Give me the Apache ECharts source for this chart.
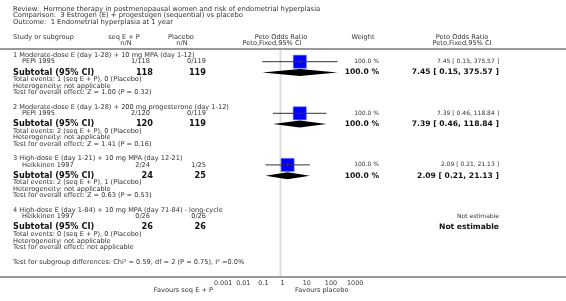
<!DOCTYPE html>
<html><head><meta charset="utf-8">
<script src="https://cdn.jsdelivr.net/npm/echarts@6/dist/echarts.min.js"></script>
<style>html,body{margin:0;padding:0;background:#fff}#c{width:566px;height:301px}</style>
</head><body><div id="c"></div>
<script>
// ---------- data ----------
const titleLines = [
  'Review:  Hormone therapy in postmenopausal women and risk of endometrial hyperplasia',
  'Comparison:  3 Estrogen (E) + progestogen (sequential) vs placebo',
  'Outcome:  1 Endometrial hyperplasia at 1 year'
];
const colHeaders = ['Study or subgroup', 'seq E + P', 'Placebo', 'Peto Odds Ratio', 'Weight', 'Peto Odds Ratio'];
const colSubHeaders = ['', 'n/N', 'n/N', 'Peto,Fixed,95% CI', '', 'Peto,Fixed,95% CI'];
const subgroupNames = [
  '1 Moderate-dose E (day 1-28) + 10 mg MPA (day 1-12)',
  '2 Moderate-dose E (day 1-28) + 200 mg progesterone (day 1-12)',
  '3 High-dose E (day 1-21) + 10 mg MPA (day 12-21)',
  '4 High-dose E (day 1-84) + 10 mg MPA (day 71-84) - long-cycle'
];
const studyNames = ['PEPI 1995', 'PEPI 1995', 'Heikkinen 1997', 'Heikkinen 1997'];
const eventsE = ['1/118', '2/120', '2/24', '0/26'];
const eventsP = ['0/119', '0/119', '1/25', '0/26'];
const totalE = [118, 120, 24, 26];
const totalP = [119, 119, 25, 26];
const weights = ['100.0 %', '100.0 %', '100.0 %', ''];
const orEst = [7.45, 7.39, 2.09, null];
const orLow = [0.15, 0.46, 0.21, null];
const orHigh = [375.57, 118.84, 21.13, null];
const totalEventsText = [
  'Total events: 1 (seq E + P), 0 (Placebo)',
  'Total events: 2 (seq E + P), 0 (Placebo)',
  'Total events: 2 (seq E + P), 1 (Placebo)',
  'Total events: 0 (seq E + P), 0 (Placebo)'
];
const heterogeneityText = [
  'Heterogeneity: not applicable', 'Heterogeneity: not applicable',
  'Heterogeneity: not applicable', 'Heterogeneity: not applicable'
];
const overallEffectText = [
  'Test for overall effect: Z = 1.00 (P = 0.32)',
  'Test for overall effect: Z = 1.41 (P = 0.16)',
  'Test for overall effect: Z = 0.63 (P = 0.53)',
  'Test for overall effect: not applicable'
];
const subgroupTestText = 'Test for subgroup differences: Chi\u00b2 = 0.59, df = 2 (P = 0.75), I\u00b2 =0.0%';
const axisTicks = [0.001, 0.01, 0.1, 1, 10, 100, 1000];
const favoursLeft = 'Favours seq E + P';
const favoursRight = 'Favours placebo';

// ---------- layout ----------
const W = 566, H = 301;
const FONT = 'DejaVu Sans';
const G0 = 55.5, GSTEP = 51.6;
const OFF = {name: 0, study: 6.2, sub: 17, tot: 24, het: 30.5, test: 37};
const rowY = (g, k) => G0 + g * GSTEP + OFF[k];
const AXIS_Y = 277;
const X = {left: 13, study: 22, colE: 150, colP: 206, hdrE: 124, hdrP: 181, hdrPlot: 281, weight: 379, hdrWeight: 363, est: 499, hdrEst: 462};
const fmtCI = i => orEst[i] == null ? 'Not estimable' :
  orEst[i].toFixed(2) + ' [ ' + orLow[i].toFixed(2) + ', ' + orHigh[i].toFixed(2) + ' ]';

const TXT = '#333';
function txt(x, y, s, o) {
  o = o || {};
  return {type: 'text', x: x, y: y, silent: true, style: {
    text: s, fontFamily: FONT, fontSize: o.size || 6.6, fontWeight: o.bold ? 'bold' : 'normal',
    fill: o.color || TXT, align: o.align || 'left', verticalAlign: 'middle'}};
}
const g = [];
titleLines.forEach((s, i) => g.push(txt(X.left, 8.8 + i * 6.7, s, {size: 6.8})));
g.push(txt(X.left, 37, colHeaders[0]));
g.push(txt(X.hdrE, 37, colHeaders[1], {align: 'center'}));
g.push(txt(X.hdrE + 2, 43.2, colSubHeaders[1], {align: 'center'}));
g.push(txt(X.hdrP, 37, colHeaders[2], {align: 'center'}));
g.push(txt(X.hdrP + 1, 43.2, colSubHeaders[2], {align: 'center'}));
g.push(txt(X.hdrPlot, 37, colHeaders[3], {align: 'center'}));
g.push(txt(X.hdrPlot - 9, 43.2, colSubHeaders[3], {align: 'center'}));
g.push(txt(X.hdrWeight, 37, colHeaders[4], {align: 'center'}));
g.push(txt(X.hdrEst, 37, colHeaders[5], {align: 'center'}));
g.push(txt(X.hdrEst, 43.2, colSubHeaders[5], {align: 'center'}));
g.push({type: 'line', silent: true, shape: {x1: 0, y1: 49, x2: W, y2: 49}, style: {stroke: '#999', lineWidth: 2}});
for (let i = 0; i < 4; i++) {
  g.push(txt(X.left, rowY(i, 'name'), subgroupNames[i]));
  g.push(txt(X.study, rowY(i, 'study'), studyNames[i]));
  g.push(txt(X.colE, rowY(i, 'study'), eventsE[i], {align: 'right'}));
  g.push(txt(X.colP, rowY(i, 'study'), eventsP[i], {align: 'right'}));
  g.push(txt(X.weight, rowY(i, 'study'), weights[i], {align: 'right', size: 6}));
  g.push(txt(X.est, rowY(i, 'study'), fmtCI(i), {align: 'right', size: 6}));
  g.push(txt(X.left, rowY(i, 'sub'), 'Subtotal (95% CI)', {bold: true, size: 8.2, color: '#111'}));
  g.push(txt(X.colE + 3, rowY(i, 'sub'), String(totalE[i]), {bold: true, size: 8.2, align: 'right', color: '#111'}));
  g.push(txt(X.colP, rowY(i, 'sub'), String(totalP[i]), {bold: true, size: 8.2, align: 'right', color: '#111'}));
  g.push(txt(X.weight, rowY(i, 'sub'), weights[i], {bold: true, size: 7.6, align: 'right', color: '#111'}));
  g.push(txt(X.est, rowY(i, 'sub'), fmtCI(i), {bold: true, size: 7.6, align: 'right', color: '#111'}));
  g.push(txt(X.left, rowY(i, 'tot'), totalEventsText[i]));
  g.push(txt(X.left, rowY(i, 'het'), heterogeneityText[i]));
  g.push(txt(X.left, rowY(i, 'test'), overallEffectText[i]));
}
g.push(txt(X.left, 262, subgroupTestText));
g.push({type: 'line', silent: true, shape: {x1: 0, y1: AXIS_Y, x2: W, y2: AXIS_Y}, style: {stroke: '#999', lineWidth: 2}});
g.push(txt(213, 290, favoursLeft, {align: 'right'}));
g.push(txt(295, 290, favoursRight));

const idx = [0, 1, 2, 3].filter(i => orEst[i] != null);
const chart = echarts.init(document.getElementById('c'), null, {renderer: 'canvas'});
chart.setOption({
  animation: false,
  grid: {left: 214, right: W - 347, top: 0, bottom: H - AXIS_Y},
  xAxis: {type: 'log', logBase: 10, min: axisTicks[0], max: axisTicks[axisTicks.length - 1], splitNumber: 6,
    axisLine: {show: false}, splitLine: {show: false},
    axisTick: {show: true, inside: true, length: 3, lineStyle: {color: '#333'}},
    axisLabel: {fontFamily: FONT, fontSize: 6.4, color: TXT, margin: 3, align: 'left', showMinLabel: true, showMaxLabel: true,
      formatter: v => { const e = Math.round(Math.log10(v)); const t = axisTicks.find(a => Math.round(Math.log10(a)) === e); return t == null ? '' : String(t); }}},
  yAxis: {type: 'value', min: 0, max: AXIS_Y, inverse: true, show: false},
  graphic: g,
  series: [
    {type: 'custom', silent: true, clip: false, data: [[1]],
      renderItem: (p, api) => {
        const a = api.coord([api.value(0), 50]), b = api.coord([api.value(0), AXIS_Y - 1]);
        return {type: 'line', shape: {x1: a[0], y1: a[1], x2: b[0], y2: b[1]}, style: {stroke: '#dcdcdc', lineWidth: 2}};
      }},
    {type: 'custom', silent: true, clip: false,
      data: idx.map(i => [orEst[i], rowY(i, 'study'), orLow[i], orHigh[i]]),
      renderItem: (p, api) => {
        const y = api.value(1);
        const c = api.coord([api.value(0), y]), l = api.coord([api.value(2), y]), h = api.coord([api.value(3), y]);
        const s = 13;
        return {type: 'group', children: [
          {type: 'rect', shape: {x: c[0] - s / 2, y: c[1] - s / 2, width: s, height: s}, style: {fill: '#0000ff', stroke: '#5a5aff', lineWidth: 0.6}},
          {type: 'line', shape: {x1: l[0], y1: c[1], x2: h[0], y2: c[1]}, style: {stroke: '#333', lineWidth: 1}},
          {type: 'line', shape: {x1: c[0], y1: c[1] - 2, x2: c[0], y2: c[1] + 2}, style: {stroke: '#333', lineWidth: 1}}
        ]};
      }},
    {type: 'custom', silent: true, clip: false,
      data: idx.map(i => [orEst[i], rowY(i, 'sub'), orLow[i], orHigh[i]]),
      renderItem: (p, api) => {
        const y = api.value(1);
        const c = api.coord([api.value(0), y]), l = api.coord([api.value(2), y]), h = api.coord([api.value(3), y]);
        return {type: 'polygon', shape: {points: [[l[0], c[1]], [c[0], c[1] - 3.5], [h[0], c[1]], [c[0], c[1] + 3.5]]}, style: {fill: '#000'}};
      }}
  ]
});
</script>
</body></html>
